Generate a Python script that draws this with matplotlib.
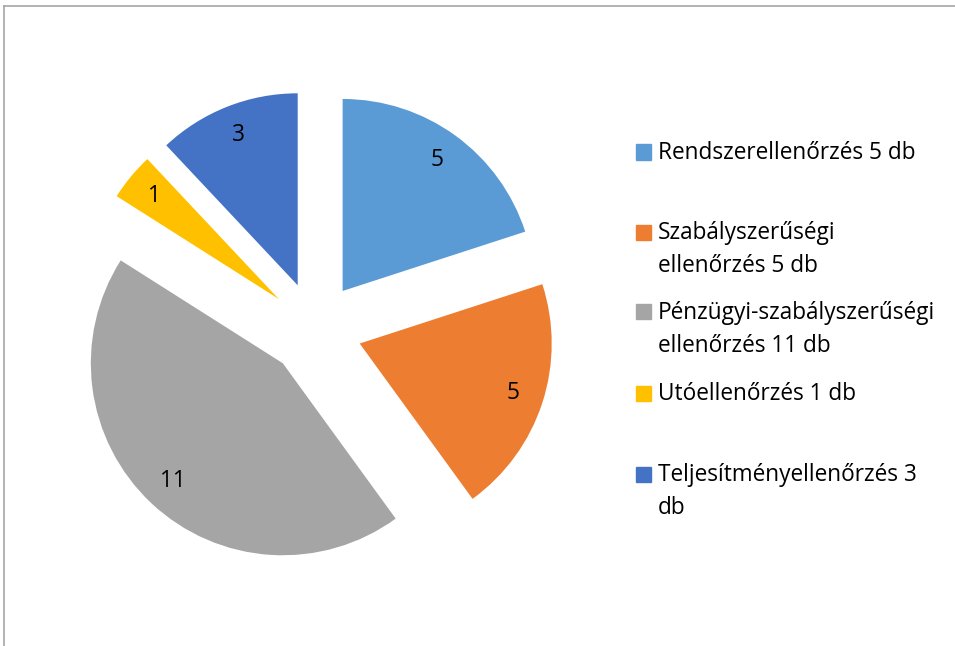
import matplotlib.pyplot as plt
from matplotlib.patches import Rectangle
from matplotlib.lines import Line2D

# data
labels = ['Rendszerellenőrzés 5 db',
          'Szabályszerűségi\nellenőrzés 5 db',
          'Pénzügyi-szabályszerűségi\nellenőrzés 11 db',
          'Utóellenőrzés 1 db',
          'Teljesítményellenőrzés 3\ndb']
values = [5, 5, 11, 1, 3]
colors = ['#5B9BD5', '#ED7D31', '#A5A5A5', '#FFC000', '#4472C4']

plt.rcParams['font.family'] = ['Open Sans', 'DejaVu Sans']
fs = 16.3

W, H = 955, 646
fig = plt.figure(figsize=(W / 100, H / 100), dpi=100)
ax = fig.add_axes([0, 0, 1, 1])

total = sum(values)
# explode is in data units here (1 unit = 1 px)
wedges, texts, autotexts = ax.pie(
    values, colors=colors, startangle=90, counterclock=False,
    explode=[47] * len(values), radius=192, center=(315, H - 329),
    autopct=lambda p: '%d' % round(p * total / 100), pctdistance=0.84,
    wedgeprops={'linewidth': 0},
    textprops={'fontsize': fs, 'color': 'black'})
ax.set_xlim(0, W)
ax.set_ylim(0, H)
ax.axis('off')

# legend drawn by hand (excel-like irregular spacing)
first_baselines = [159, 239, 319, 400, 481]
line_step = 33
for lab, col, yb in zip(labels, colors, first_baselines):
    fig.patches.append(Rectangle((636 / W, 1 - (yb + 0.5) / H), 15 / W, 15 / H,
                                 transform=fig.transFigure, color=col))
    for k, line in enumerate(lab.split('\n')):
        fig.text(658 / W, 1 - (yb + k * line_step) / H, line,
                 fontsize=fs, va='baseline', ha='left')

# outer frame (top and left edges visible)
fig.lines.append(Line2D([4 / W, 1], [1 - 5.5 / H, 1 - 5.5 / H],
                        transform=fig.transFigure, color='#A6A6A6', lw=1.2))
fig.lines.append(Line2D([4 / W, 4 / W], [0, 1 - 5.5 / H],
                        transform=fig.transFigure, color='#A6A6A6', lw=1.2))

plt.savefig('out.png', dpi=100)
